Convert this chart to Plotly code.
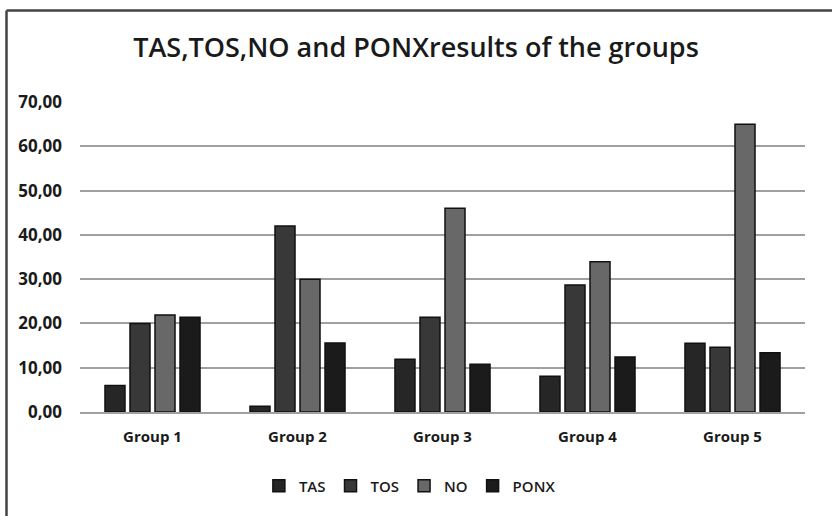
import plotly.graph_objects as go

groups = ["Group 1", "Group 2", "Group 3", "Group 4", "Group 5"]
tas = [6.0, 1.3, 11.9, 8.1, 15.5]
tos = [20.0, 42.0, 21.4, 28.7, 14.6]
no = [21.9, 30.0, 46.0, 33.9, 65.0]
ponx = [21.4, 15.6, 10.8, 12.4, 13.4]

series = [("TAS", tas, "#262626"), ("TOS", tos, "#383838"), ("NO", no, "#686868"), ("PONX", ponx, "#1b1b1b")]

fig = go.Figure()
for name, vals, col in series:
    fig.add_trace(go.Bar(x=groups, y=vals, name=name, marker=dict(color=col, line=dict(color="#111111", width=1.5))))

FONT = "Open Sans"
fig.update_layout(
    width=832, height=516,
    margin=dict(l=80, r=27, t=102, b=104),
    paper_bgcolor="white", plot_bgcolor="white",
    separators=",.",
    barmode="group", bargap=0.31, bargroupgap=0.2,
    title=dict(text="TAS,TOS,NO and PONXresults of the groups", x=0.5, xanchor="center", y=0.907, yanchor="middle",
               font=dict(family=FONT, size=27, color="#1a1a1a", weight=600)),
    showlegend=True,
    legend=dict(orientation="h", x=0.455, xanchor="center", y=-0.239, yanchor="middle",
                font=dict(family=FONT, size=15, color="#1a1a1a", weight=600), itemwidth=30, traceorder="normal"),
    font=dict(family=FONT, color="#1a1a1a"),
)
fig.update_yaxes(range=[0, 70], dtick=10, tickformat=".2f", showgrid=True, gridcolor="#a0a0a0", gridwidth=2,
                 zeroline=False, showline=False, ticks="", ticklabelstandoff=17,
                 tickfont=dict(family=FONT, size=17, color="#1a1a1a", weight="bold"))
fig.update_xaxes(showline=True, linecolor="#a0a0a0", linewidth=2, ticks="", ticklabelstandoff=10,
                 tickfont=dict(family=FONT, size=15, color="#1a1a1a", weight="bold"))

# outer frame of the chart (left and top visible)
ytop = (516 - 10.5 - 104) / 310
xleft = (6.5 - 80) / 725
fig.add_shape(type="line", xref="paper", yref="paper", x0=xleft, x1=1.1, y0=ytop, y1=ytop,
              line=dict(color="#444444", width=2.5))
fig.add_shape(type="line", xref="paper", yref="paper", x0=xleft, x1=xleft, y0=-0.4, y1=ytop,
              line=dict(color="#444444", width=2.5))

fig.write_html("out.html", config={"displayModeBar": False},
               post_script="document.body.style.margin='0';")
